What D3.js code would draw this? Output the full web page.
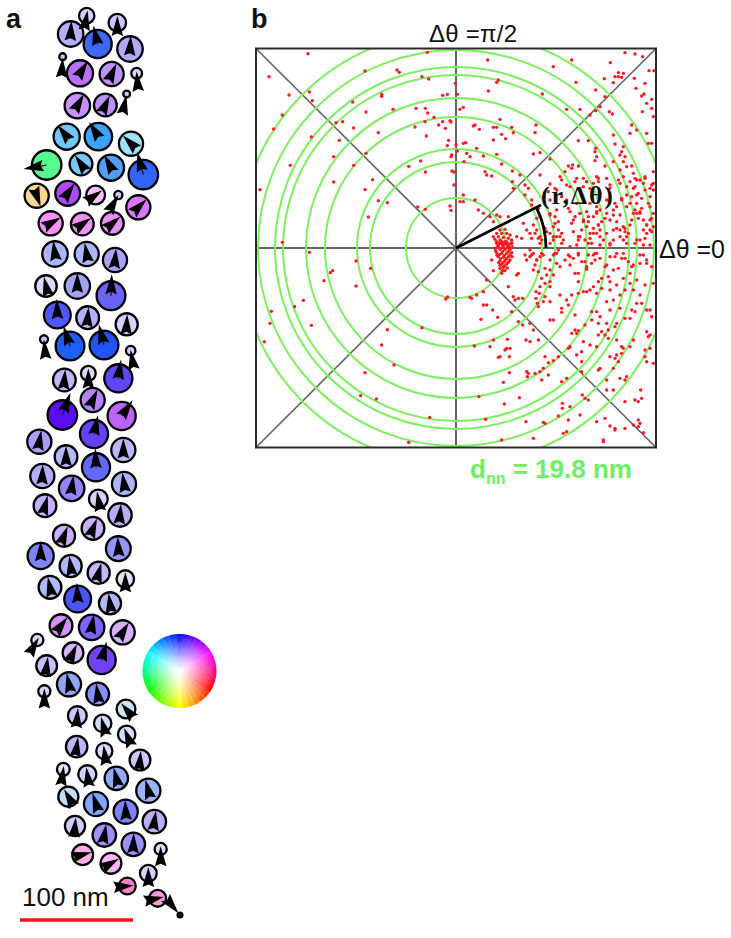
<!DOCTYPE html>
<html><head><meta charset="utf-8">
<script src="https://cdn.jsdelivr.net/npm/d3@7/dist/d3.min.js"></script>
<style>html,body{margin:0;padding:0;background:#fff}svg{display:block}text{font-family:"Liberation Sans",Arial,sans-serif}</style>
</head><body><svg id="c" width="731" height="938"></svg>
<script>
// Particles: [x, y, outer radius, moment angle (deg cw from up), saturation]
// x, y, radius in reading units (3 per page pixel), y relative to the top of each strip
const stripTops = [0, 230, 470, 700];
const strip1 = [
[260,47,25,10,.17],[212,102,40,3,.3],[293,132,44,-13,.75],[352,68,28,0,.2],[390,147,40,3,.32],[188,170,12,3,.2],
[240,220,41,32,.55],[335,222,38,25,.42],[410,220,18,-5,.15],[380,282,12,12,.2],[232,317,40,30,.42],[316,315,36,25,.42],
[200,410,41,-38,.55],[295,410,43,-32,.75],[393,431,38,-45,.37],[140,495,46,-100,.65],[243,492,36,-35,.5],[333,503,41,-28,.68],
[430,524,46,-15,.8],[110,587,38,160,.42],[203,580,39,35,.72],[287,585,30,55,.22],[355,585,14,30,.2],[415,622,38,45,.52],
[152,670,38,60,.42],[247,672,36,55,.42],[337,670,36,50,.42]];
const strip2 = [
[165,72,40,-8,.32],[260,72,38,-10,.32],[345,90,38,5,.35],[138,168,34,-13,.15],[232,168,40,0,.35],[333,197,45,2,.6],
[172,255,42,-2,.68],[263,263,36,5,.3],[380,283,35,3,.16],[132,328,14,-5,.2],[210,348,45,-18,.88],[312,345,45,-14,.87],
[392,362,16,-10,.2],[355,445,44,8,.72],[193,450,36,5,.27],[265,430,24,0,.12],[278,510,38,25,.47],[187,555,46,20,.94],
[365,558,44,35,.6],[282,612,44,12,.74],[118,635,38,10,.37],[198,680,36,0,.27],[370,660,38,0,.26],[288,712,44,-2,.6]];
const strip3 = [
[127,18,38,2,.3],[215,55,40,8,.47],[372,42,38,-8,.32],[135,107,36,15,.3],[295,87,30,-10,.18],[360,135,37,5,.3],
[279,175,36,22,.3],[192,197,35,22,.3],[122,258,41,0,.48],[355,236,39,-3,.42],[212,288,35,-8,.3],[296,308,35,15,.27],
[376,327,28,0,.1],[150,352,36,-12,.3],[233,387,42,-3,.7],[330,400,35,-8,.3],[183,467,36,38,.42],[275,472,40,10,.6],
[368,487,38,32,.3],[112,510,20,30,.15],[219,548,33,25,.27],[305,570,44,15,.73],[140,587,33,8,.23],[207,643,38,-12,.42],
[293,672,36,-8,.48],[133,664,20,0,.15]];
const strip4 = [
[378,27,30,-40,.22],[232,47,30,5,.2],[308,70,28,-15,.16],[380,103,28,-22,.17],[230,140,34,8,.27],[313,153,26,-8,.14],
[420,180,33,5,.2],[190,208,21,8,.1],[262,223,29,-8,.17],[349,235,37,-14,.42],[445,272,38,-15,.38],[205,290,32,-30,.22],
[288,312,38,-18,.48],[377,335,38,-3,.5],[463,365,37,8,.3],[225,378,32,5,.18],[313,405,37,10,.43],[400,433,37,2,.42],
[482,447,20,0,.12],[248,464,33,75,.3],[333,490,33,60,.28],[445,520,27,0,.16],[382,558,27,85,.48],[473,595,27,78,.38],[540,645,9,140,.1]];

// Polar-plot points, in reading units (3 per page pixel) of several crops
const cropTL = [[174,161],[532,157],[345,213],[441,210],[448,217],[57,230],[516,230],[536,237],[616,250],[178,276],[117,285],[187,302],[395,283],[395,289],[578,286],[592,283],[622,283],[308,306],[97,345],[348,336],[429,328],[498,325],[526,325],[533,339],[630,328],[640,322],[552,352],[258,368],[278,365],[525,365],[566,375],[578,365],[600,362],[603,366],[71,387],[311,384],[495,381],[586,385],[385,398],[184,411],[529,408],[268,421],[596,421],[592,437],[618,434],[640,430],[622,453],[251,470],[348,460],[605,465],[603,470],[642,485],[121,496],[311,496],[476,499],[512,483],[606,513],[612,516],[526,516],[368,539],[251,546],[30,569],[345,569],[612,555],[640,585],[385,602],[412,608],[630,605],[640,605],[600,618],[603,631],[503,621],[526,628],[355,651],[97,727]];
const cropBL = [[178,37],[318,63],[362,85],[241,98],[248,92],[222,122],[318,138],[160,181],[587,177],[593,171],[134,200],[64,214],[60,250],[184,256],[516,263],[412,269],[43,305],[395,315],[432,375],[345,398],[332,467],[379,477],[539,532],[476,607]];
const cropTR = [[525,38],[555,42],[578,50],[113,60],[365,60],[481,68],[310,80],[597,92],[612,92],[495,110],[505,98],[520,100],[463,116],[505,110],[515,112],[145,120],[140,127],[378,127],[490,128],[553,115],[558,145],[585,130],[115,153],[277,162],[437,150],[575,168],[582,162],[605,178],[465,170],[590,190],[605,205],[350,208],[390,208],[437,212],[450,200],[478,215],[487,222],[577,215],[610,230],[420,225],[150,238],[75,255],[70,258],[130,262],[140,262],[88,268],[185,262],[258,255],[190,278],[255,278],[155,283],[167,296],[130,300],[545,255],[560,270],[590,280],[490,285],[540,280],[385,302],[415,302],[495,312],[437,325],[595,310],[605,310],[47,308],[80,325],[50,340],[100,348],[140,343],[60,350],[250,342],[270,338],[300,357],[440,350],[435,335],[520,320],[515,335],[510,345],[525,350],[520,365],[530,380],[545,378],[435,362],[355,378],[368,375],[345,395],[365,385],[385,378],[465,378],[490,365],[155,372],[105,395],[110,405],[125,408],[187,393],[210,405],[270,405],[335,420],[380,415],[400,415],[410,425],[440,410],[470,415],[510,390],[520,410],[550,400],[585,415],[610,395],[187,425],[225,435],[235,445],[190,445],[300,432],[320,450],[360,440],[400,440],[420,445],[445,425],[480,445],[510,430],[530,440],[555,440],[580,430],[75,480],[225,465],[245,480],[245,495],[140,525],[175,530],[120,530],[130,545],[150,530],[100,520],[85,510],[320,510],[355,505],[495,490],[515,480],[560,490],[600,470],[530,500],[490,510],[440,500],[450,510],[470,520],[510,525],[550,520],[570,515],[600,500],[580,540],[600,540],[540,555],[590,555],[610,560],[375,530],[390,520],[410,515],[410,560],[430,565],[400,540],[365,550],[370,575],[385,590],[420,580],[440,580],[450,590],[470,580],[490,570],[510,590],[530,590],[560,600],[590,580],[605,575],[220,550],[230,570],[240,580],[200,590],[215,595],[330,590],[340,600],[310,560],[260,570],[270,590],[275,600],
[150,570],[165,568],[140,580],[155,580],[170,580],[180,585],[145,590],[160,592],[175,595],[185,600],[135,598],[150,600],[165,605],[140,610],[155,612],[170,612],[185,610],[145,620],[160,622],[178,622],[130,590],
[540,425],[565,460],[585,450],[600,445],[610,430],[560,420],[545,470],[575,505],[610,520],[545,540],[565,535],[520,560],[525,575],[500,545],[480,540],[455,545],[430,530],[445,555],[415,545],[395,570],[440,520],[420,490],[380,490],[350,480],[335,470],[300,480],[280,470],[300,520],[325,545],[290,575],[310,590],[315,530],[270,530],[265,505]];
const cropBR = [[140,5],[155,5],[170,5],[185,8],[145,15],[160,15],[175,18],[135,25],[150,28],[165,28],[180,28],[140,38],[155,40],[170,40],[185,38],[145,50],[160,52],[175,50],[150,62],[165,62],[180,60],[155,72],[170,72],[160,82],[150,85],[165,92],[155,100],
[148,9],[163,10],[178,12],[142,21],[157,22],[172,23],[186,20],[137,32],[158,34],[176,34],[148,44],[163,46],[180,45],[141,46],[152,56],[170,56],[186,50],[146,68],[160,67],[176,66],[164,78],[150,76],[158,92],[172,84],
[260,60],[270,50],[255,75],[265,95],[285,85],[300,90],[290,105],[275,115],[300,125],[310,105],[320,70],[300,60],[320,40],[310,45],[240,50],[230,60],[275,40],[250,90],[285,130],[300,140],[270,140],[245,45],
[125,60],[110,120],[60,172],[65,175],[80,165],[100,155],[130,92],[205,100],[200,105],[175,140],[190,170],[205,175],[218,175],[195,180],[100,195],[110,195],[128,210],[143,232],[93,238],[185,215],[205,245],[218,255],[240,250],[258,155],[268,160],[258,175],[262,190],[285,170],[300,185],[280,185],[265,200],[300,240],[310,240],[335,205],[335,217],[355,195],[375,225],[330,165],[350,180],[365,165],[385,160],[400,155],[420,150],[385,125],[375,100],[385,100],[410,88],[345,60],[360,50],[385,45],[405,65],[430,45],[435,60],[440,40],[450,15],[415,10],[480,15],[495,50],[520,40],[470,75],[490,90],[505,85],[515,55],[455,115],[445,125],[430,140],[410,155],[475,110],[480,125],[520,115],[540,100],[550,75],[570,70],[590,70],[580,45],[600,15],[580,15],[555,10],[530,10],[380,15],[240,30],[225,45],
[425,215],[440,215],[450,230],[375,270],[380,280],[365,280],[385,272],[405,255],[445,285],[465,285],[475,295],[500,300],[515,320],[440,320],[420,315],[400,305],[395,335],[380,345],[360,320],[355,325],[325,350],[310,362],[295,368],[285,350],[280,385],[270,395],[255,400],[235,400],[232,410],[265,300],[240,305],[228,300],[250,270],[170,325],[180,325],[165,330],[172,298],[145,352],[150,350],[178,350],[130,300],[73,318],[120,320],[160,427],[178,398],[87,470],[208,473],[163,492],[107,538],[228,545],[280,547],[285,550],[155,600],[250,595],[340,580],[350,575],[355,540],[325,528],[337,490],[337,505],[390,525],[360,500],[397,465],[405,475],[415,480],[440,545],[465,535],[480,558],[495,565],[495,570],[525,565],[550,555],[565,540],[570,550],[565,560],[580,578],[460,600],[460,605],[525,485],[555,480],[572,450],[575,475],[565,485],[470,450],[490,450],[470,420],[515,340],[520,325],[500,345],[495,355],[480,350],[505,365],[490,385],[450,385],[445,390],[395,365],[395,395],[335,425],[350,415],[295,405],[275,420],[230,395],[530,410],[510,415],[525,420],[585,350],[600,325],[585,330],[600,285],[595,290],[550,300],[540,320],[455,275],[590,275],[605,230],[560,190],[590,210],[600,210],[575,190],[545,210],[555,215],[540,235],[500,250],[495,260],[475,270],[525,235],[510,205],[480,210],[470,250],[445,250],[425,240],
[470,185],[490,180],[510,165],[525,150],[550,150],[570,165],[585,135],[610,130],[560,120],[540,130],[500,135],[480,150],[440,160],[455,145],[610,370],[590,365]];
const cropEdge = [[315,10],[330,15],[345,5],[365,30],[370,45],[310,40],[320,60],[335,70],[355,85],[300,85],[315,105],[330,115],[320,115],[350,150],[360,165],[340,165],[330,195],[345,190],[365,130],[290,60],[275,70],[260,95],[250,120],[260,160],[270,165],[285,160],[295,175],[280,195],[250,195],[225,130],[205,150],[210,165],[190,175],[180,190],[165,195],[150,185],[145,195],[185,205],[220,195],[240,205],[120,110],[130,135],[150,115],[160,140],[175,125],[200,110],[230,75],[210,55],[190,25],[205,10],[170,20],[150,45],[135,20],[110,30],[240,30],[265,15],[90,5],[75,40],[55,50],[60,120],[75,145],[85,165],[95,175],[80,185],[70,195],[60,175],[45,160],[20,130],[10,150],[15,175],[25,190],[5,190],[30,205],[60,205],[95,205],[120,215],[115,240],[130,250],[145,235],[155,260],[175,240],[185,265],[195,235],[210,250],[225,275],[240,245],[260,235],[285,250],[295,260],[330,240],[350,255],[365,275],[40,240],[20,255],[10,235],[75,235],[85,225],[90,275],[120,270],[170,275],[305,275]];

const ringRadii = [50, 86, 99, 131, 150, 173, 181, 198, 217];   // in plot pixels from the centre
const frameDomain = [-200, 200];
const armPoint = [85, 43];          // (r, Δθ) annotation point
const armArcRadius = 90;
const scaleBar = {nm: 100};

const svg = d3.select("#c");
const defs = svg.append("defs");
defs.append("filter").attr("id","soft").attr("x","-5%").attr("y","-5%").attr("width","110%").attr("height","110%")
  .append("feGaussianBlur").attr("stdDeviation",0.6);
defs.append("filter").attr("id","soft2").append("feGaussianBlur").attr("stdDeviation",0.3);

/* ---------- Panel a ---------- */
const readX = d3.scaleLinear().domain([0,690]).range([0,230]);
const readR = d3.scaleLinear().domain([0,3]).range([0,1]);
const hsv = (h,s,v)=>{ const l=v*(1-s/2); const sl=(l===0||l===1)?0:(v-l)/Math.min(l,1-l); return d3.hsl(h,sl,l).formatHex(); };
const tailOffset = d3.scaleLinear().domain([4,13,14.5,16]).range([21,8,2,-8]);
const armLen = 20;

const rows = [strip1,strip2,strip3,strip4].flatMap((s,i)=>{
  const y = d3.scaleLinear().domain([0,720]).range([stripTops[i],stripTops[i]+240]);
  return s.map(d=>({x:readX(d[0]),y:y(d[1]),r:readR(d[2]),a:d[3],s:d[4]}));
});
const gA = svg.append("g").attr("filter","url(#soft)");
gA.selectAll("circle").data(rows).join("circle")
  .attr("cx",d=>d.x).attr("cy",d=>d.y).attr("r",d=>Math.max(d.r-0.6,1.8))
  .attr("fill",d=>d.r<4?"#222":hsv(240+d.a,d.s,0.98)).attr("stroke","#000").attr("stroke-width",2.3);
const arrows = gA.selectAll("g.arrow").data(rows).join("g").attr("class","arrow")
  .attr("transform",d=>`translate(${d.x},${d.y}) rotate(${d.a})`);
arrows.append("path").attr("fill","#000").attr("d",d=>{
  const b=tailOffset(d.r);
  return `M0,${b-armLen} L5.8,${b} L0,${b-2.5} L-5.8,${b} Z`;
});
arrows.filter(d=>d.r>=13.5).append("line").attr("stroke","#111").attr("stroke-width",1.2)
  .attr("x1",0).attr("y1",0).attr("x2",0).attr("y2",d=>tailOffset(d.r)-2.5);

/* colour wheel */
const wheel = svg.append("g").attr("transform","translate(179.5,671)");
const wheelAngles = d3.range(0,360,10), wheelRings = d3.range(0,16);
const wheelR = d3.scaleLinear().domain([0,16]).range([0,37]);
const arc = d3.arc();
wheelRings.forEach(k=>wheelAngles.forEach(a=>{
  wheel.append("path").attr("d",arc({innerRadius:Math.max(wheelR(k)-.3,0),outerRadius:wheelR(k+1),startAngle:(a-5.4)*Math.PI/180,endAngle:(a+5.4)*Math.PI/180}))
    .attr("fill",hsv(240+a,Math.pow((k+.6)/16,1.25),1));
}));

/* scale bar */
const nm = d3.scaleLinear().domain([0,100]).range([20,133]);
svg.append("line").attr("x1",nm(0)).attr("x2",nm(scaleBar.nm)).attr("y1",920).attr("y2",920).attr("stroke","#f3141c").attr("stroke-width",3.4);
svg.append("text").attr("x",22).attr("y",906).attr("font-size",26).attr("fill","#111").text("100 nm");

svg.append("text").attr("x",6).attr("y",28).attr("font-size",27).attr("font-weight","bold").attr("fill","#111").text("a");
svg.append("text").attr("x",251).attr("y",28).attr("font-size",27).attr("font-weight","bold").attr("fill","#111").text("b");

/* ---------- Panel b ---------- */
const X = d3.scaleLinear().domain(frameDomain).range([256,656]);
const Y = d3.scaleLinear().domain(frameDomain).range([447.5,48.5]);
const pxR = d3.scaleLinear().domain([0,200]).range([0,200]);
defs.append("clipPath").attr("id","frame").append("rect")
  .attr("x",X(-200)).attr("y",Y(200)).attr("width",X(200)-X(-200)).attr("height",Y(-200)-Y(200));
const gB = svg.append("g");
const cx = X(0), cy = Y(0);
const spokes = [[-200,0,200,0],[0,-200,0,200],[-200,-200,200,200],[-200,200,200,-200]];
gB.selectAll("line.spoke").data(spokes).join("line").attr("class","spoke")
  .attr("x1",d=>X(d[0])).attr("y1",d=>Y(d[1])).attr("x2",d=>X(d[2])).attr("y2",d=>Y(d[3]))
  .attr("stroke","#666").attr("stroke-width",(d,i)=>i<2?2.1:1.7);
gB.append("g").attr("clip-path","url(#frame)").selectAll("circle").data(ringRadii).join("circle")
  .attr("cx",cx).attr("cy",cy).attr("r",d=>pxR(d)).attr("fill","none").attr("stroke","#7cf05e").attr("stroke-width",2);
gB.append("rect").attr("x",X(-200)).attr("y",Y(200)).attr("width",X(200)-X(-200)).attr("height",Y(-200)-Y(200))
  .attr("fill","none").attr("stroke","#2a2a2a").attr("stroke-width",2);

const pts = [];
cropTL.forEach(d=>pts.push([250+d[0]/3,d[1]/3]));
cropBL.forEach(d=>pts.push([250+d[0]/3,240+d[1]/3]));
cropTR.forEach(d=>pts.push([450+d[0]/3,40+d[1]/3]));
cropBR.forEach(d=>pts.push([450+d[0]/3,240+d[1]/3]));
cropEdge.forEach(d=>pts.push([530+d[0]/3,175+d[1]/3]));
gB.append("g").attr("filter","url(#soft2)").selectAll("circle").data(pts).join("circle")
  .attr("cx",d=>d[0]).attr("cy",d=>d[1]).attr("r",1.7).attr("fill","#fb1a22");

/* annotation */
const ax = X(armPoint[0]), ay = Y(armPoint[1]);
gB.append("line").attr("x1",cx).attr("y1",cy).attr("x2",ax).attr("y2",ay).attr("stroke","#000").attr("stroke-width",2.8);
gB.append("path").attr("transform",`translate(${cx},${cy})`).attr("fill","none").attr("stroke","#000").attr("stroke-width",2.8)
  .attr("d",d3.arc()({innerRadius:armArcRadius,outerRadius:armArcRadius,startAngle:Math.atan2(armPoint[0],armPoint[1]),endAngle:Math.PI/2}));
const serif = '"Liberation Serif","Times New Roman",serif';
svg.append("text").attr("x",541).attr("y",204).attr("font-size",26).attr("font-weight","bold").attr("textLength",72).attr("fill","#111").style("font-family",serif).text("(r,Δθ)");
svg.append("text").attr("x",429).attr("y",42).attr("font-size",24).attr("textLength",88).attr("fill","#111").text("Δθ =π/2");
svg.append("text").attr("x",659).attr("y",258).attr("font-size",25).attr("textLength",66).attr("fill","#111").text("Δθ =0");
const t = svg.append("text").attr("x",470).attr("y",478).attr("font-size",26).attr("font-weight","bold").attr("fill","#6cf063");
t.append("tspan").text("d");
t.append("tspan").attr("font-size",16).attr("dy",6).text("nn");
t.append("tspan").attr("dy",-6).text(" = 19.8 nm");
</script></body></html>
